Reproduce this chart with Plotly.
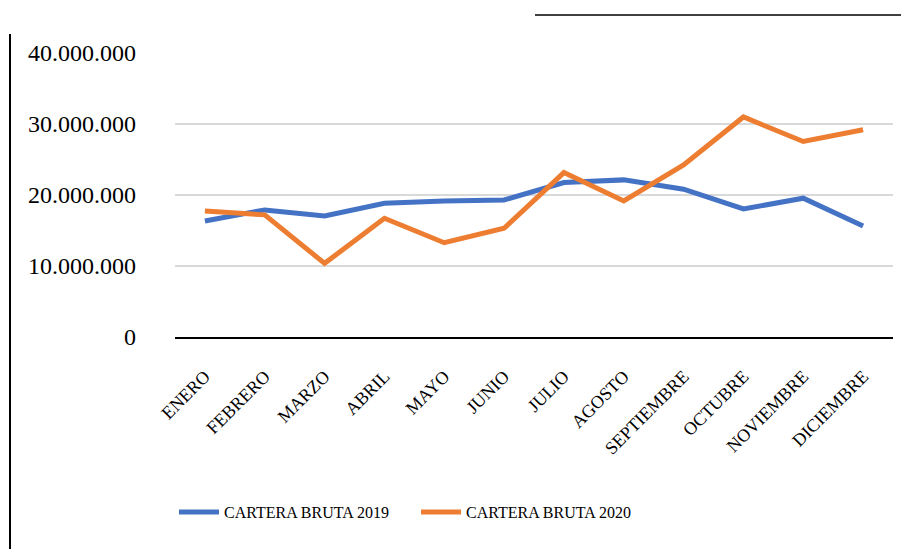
import plotly.graph_objects as go

months = ["ENERO", "FEBRERO", "MARZO", "ABRIL", "MAYO", "JUNIO", "JULIO",
          "AGOSTO", "SEPTIEMBRE", "OCTUBRE", "NOVIEMBRE", "DICIEMBRE"]
cartera_2019 = [16340000, 17900000, 17050000, 18840000, 19170000, 19300000,
                21750000, 22130000, 20820000, 18040000, 19550000, 15640000]
cartera_2020 = [17750000, 17200000, 10370000, 16720000, 13280000, 15310000,
                23160000, 19170000, 24250000, 30990000, 27540000, 29200000]
y_ticks = [0, 10000000, 20000000, 30000000, 40000000]

OFF = 8  # page body margin
W, H = 909 - OFF, 549 - OFF
L, R, T, B = 175 - OFF, 16, 53 - OFF, 212
pw = W - L - R
ph = H - T - B

fig = go.Figure()
fig.add_trace(go.Scatter(x=months, y=cartera_2019, mode="lines", name="CARTERA BRUTA 2019",
                         line=dict(color="#4472C4", width=5)))
fig.add_trace(go.Scatter(x=months, y=cartera_2020, mode="lines", name="CARTERA BRUTA 2020",
                         line=dict(color="#ED7D31", width=5)))

def px_x(p):
    return (p - OFF - L) / pw

def px_y(p):
    return (H - B - (p - OFF)) / ph

SERIF = "Liberation Serif, Times New Roman, serif"

fig.update_layout(
    width=W, height=H,
    margin=dict(l=L, r=R, t=T, b=B, pad=0),
    paper_bgcolor="white", plot_bgcolor="white",
    separators=",.",
    font=dict(family=SERIF, color="black"),
    showlegend=True,
    legend=dict(orientation="h", x=px_x(174), xanchor="left", y=px_y(512), yanchor="middle",
                font=dict(size=16, family=SERIF), entrywidth=187, entrywidthmode="pixels",
                itemwidth=40, bgcolor="rgba(0,0,0,0)"),
    xaxis=dict(type="category", range=[-0.5, 11.5], showgrid=False, showline=True,
               linecolor="black", linewidth=1.5, ticks="", tickangle=-45,
               tickfont=dict(size=18, family=SERIF), ticklabelstandoff=20,
               zeroline=False, fixedrange=True),
    yaxis=dict(range=[0, 40000000], tickvals=y_ticks, tickformat=",d", showgrid=True,
               gridcolor="#D9D9D9", gridwidth=1.5, zeroline=False, showline=False,
               tickfont=dict(size=24, family=SERIF), ticklabelstandoff=38,
               ticks="", fixedrange=True),
    shapes=[
        dict(type="line", xref="paper", yref="paper", x0=px_x(10), x1=px_x(10),
             y0=px_y(34), y1=px_y(549), line=dict(color="black", width=2)),
        dict(type="line", xref="paper", yref="paper", x0=px_x(535), x1=px_x(905),
             y0=px_y(15), y1=px_y(15), line=dict(color="black", width=1.5)),
    ],
)

fig.write_html("out.html")
